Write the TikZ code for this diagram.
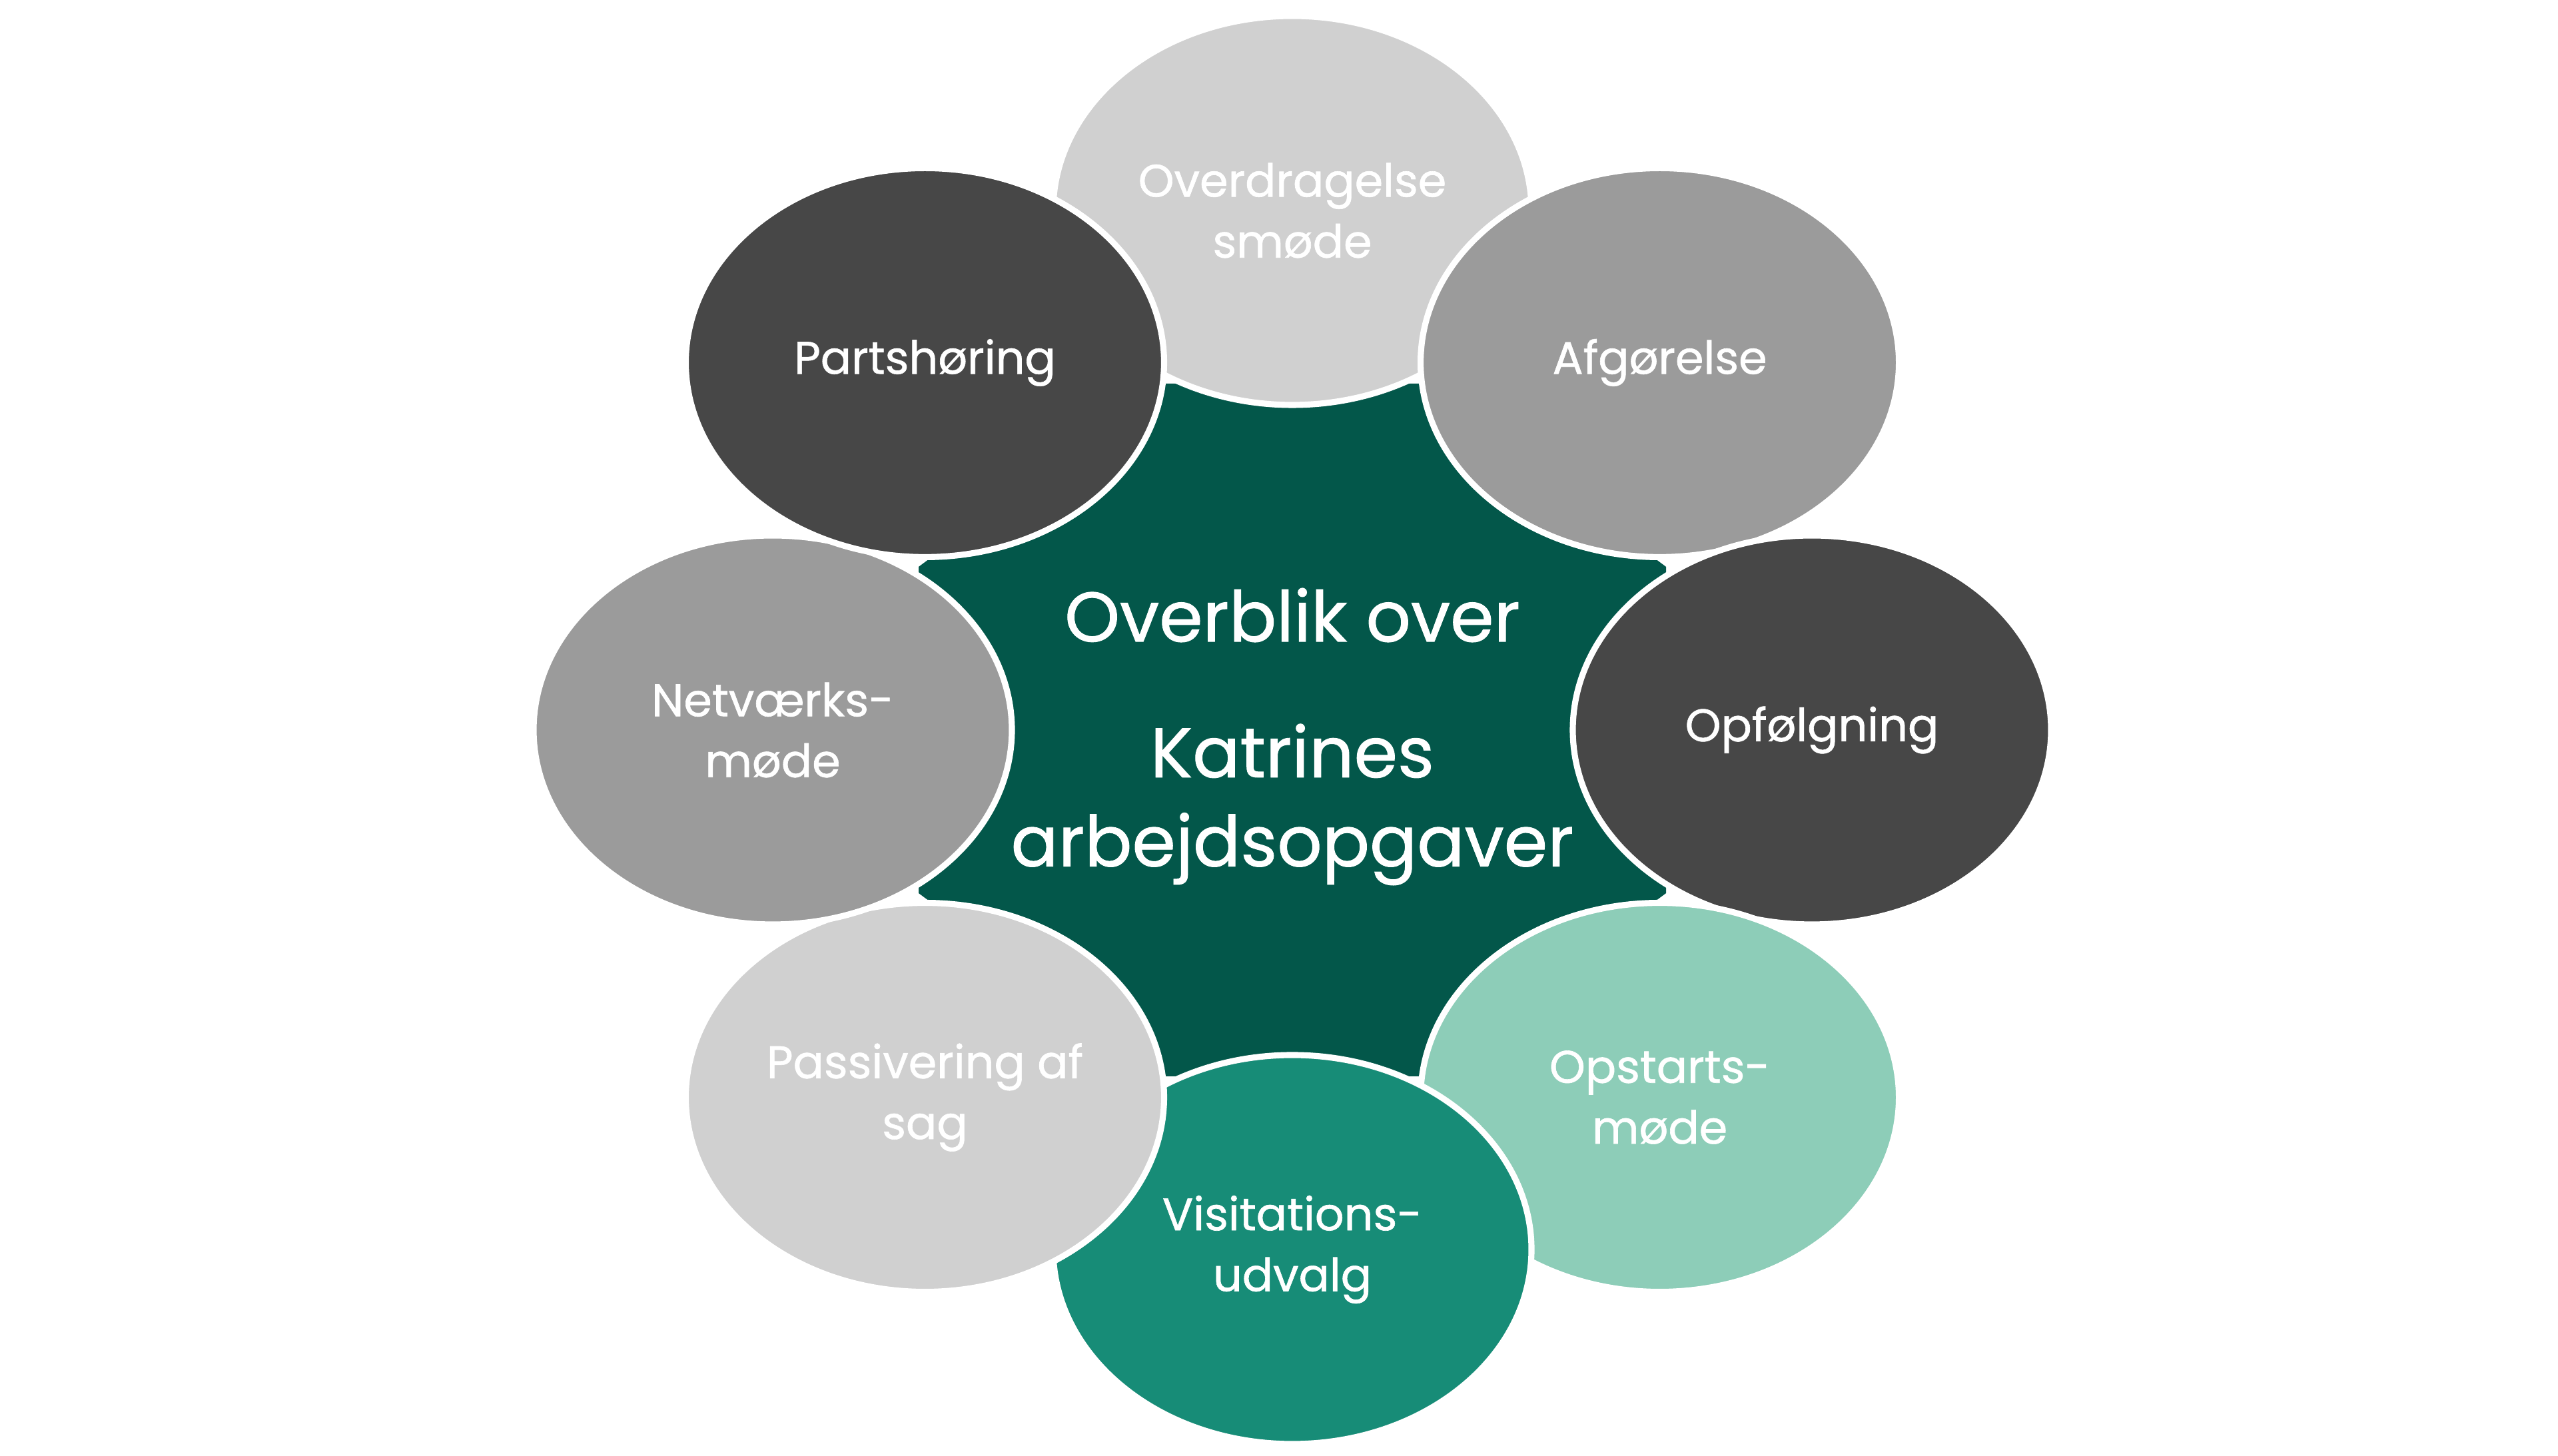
\documentclass[tikz,border=0pt]{standalone}
\usepackage{fontspec}
\setmainfont{Poppins}[BoldFont=Poppins, BoldFeatures={FakeBold=0.9}]
\usetikzlibrary{shapes.geometric}
\definecolor{hubgreen}{HTML}{03574A}
\definecolor{greylight}{HTML}{D0D0D0}
\definecolor{greymid}{HTML}{9B9B9B}
\definecolor{greydark}{HTML}{474747}
\definecolor{teallight}{HTML}{8DCDB8}
\definecolor{tealmid}{HTML}{178C77}
\begin{document}
\begin{tikzpicture}[every node/.style={font=\bfseries\fontsize{19.5}{26}\selectfont, text=white, align=center},
    task/.style={ellipse, draw=white, line width=2.6pt, minimum width=7.18cm, minimum height=5.84cm, inner sep=0pt}]
    \useasboundingbox (0,0) rectangle (38.4,21.86);
    \begin{scope}[shift={(19.4,10.9)}]
        % centre shape
        \fill[hubgreen] (5.61,2.45) -- (1.90,5.20) -- (-1.90,5.20) -- (-5.61,2.45)
            -- (-5.61,-2.45) -- (-1.90,-5.20) -- (1.90,-5.20) -- (5.61,-2.45) -- cycle;
        \node[font=\bfseries\fontsize{30}{38}\selectfont] (title) at (0,-0.1) {Overblik over\\[20pt]Katrines\\arbejdsopgaver};

        % ring of tasks, later ones on top
        \node[task, fill=greylight] (overdragelse) at (90:7.8) {Overdragelse\\smøde};
        \node[task, fill=greymid] (afgoerelse) at (45:7.8) {Afgørelse};
        \node[task, fill=greydark] (opfoelgning) at (0:7.8) {Opfølgning};
        \node[task, fill=teallight] (opstart) at (-45:7.8) {Opstarts-\\møde};
        \node[task, fill=tealmid] (visitation) at (-90:7.8) {Visitations-\\udvalg};
        \node[task, fill=greylight] (passivering) at (-135:7.8) {Passivering af\\sag};
        \node[task, fill=greymid] (netvaerk) at (180:7.8) {Netværks-\\møde};
        \node[task, fill=greydark] (partshoering) at (135:7.8) {Partshøring};
    \end{scope}
\end{tikzpicture}
\end{document}
